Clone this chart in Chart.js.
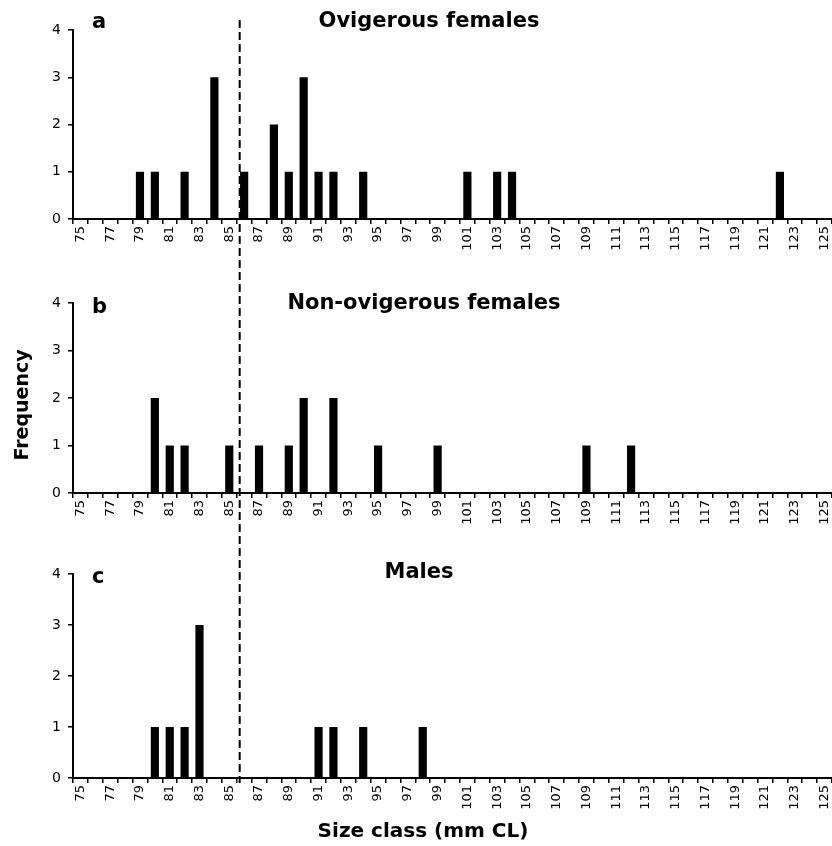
<!DOCTYPE html>
<html><head><meta charset="utf-8">
<script src="https://cdn.jsdelivr.net/npm/chart.js@4.4.0/dist/chart.umd.min.js"></script>
<style>
html,body{margin:0;padding:0;background:#fff;overflow:hidden;}
#wrap{position:relative;width:832px;height:846px;background:#fff;}
canvas{position:absolute;left:0;}
</style></head><body>
<div id="wrap">
<canvas id="ca" width="832" height="270" style="top:0px"></canvas>
<canvas id="cb" width="832" height="280" style="top:270px"></canvas>
<canvas id="cc" width="832" height="296" style="top:550px"></canvas>
</div>
<script>
// Size classes (mm CL)
const sizeClasses = [75,76,77,78,79,80,81,82,83,84,85,86,87,88,89,90,91,92,93,94,95,96,97,98,99,100,
  101,102,103,104,105,106,107,108,109,110,111,112,113,114,115,116,117,118,119,120,121,122,123,124,125];
const tickLabels = ['75','','77','','79','','81','','83','','85','','87','','89','','91','','93','','95','','97','','99','',
  '101','','103','','105','','107','','109','','111','','113','','115','','117','','119','','121','','123','','125'];
// Frequencies
const ovigerous    = [0,0,0,0,1,1,0,1,0,3, 0,1,0,2,1,3,1,1,0,1, 0,0,0,0,0,0,1,0,1,1, 0,0,0,0,0,0,0,0,0,0, 0,0,0,0,0,0,0,1,0,0, 0];
const nonOvigerous = [0,0,0,0,0,2,1,1,0,0, 1,0,1,0,1,2,0,2,0,0, 1,0,0,0,1,0,0,0,0,0, 0,0,0,0,1,0,0,1,0,0, 0,0,0,0,0,0,0,0,0,0, 0];
const males        = [0,0,0,0,0,1,1,1,3,0, 0,0,0,0,0,0,1,1,0,1, 0,0,0,1,0,0,0,0,0,0, 0,0,0,0,0,0,0,0,0,0, 0,0,0,0,0,0,0,0,0,0, 0];
const yTicks = [0,1,2,3,4];
const panelLetters = ['a','b','c'];
const panelTitles = ['Ovigerous females','Non-ovigerous females','Males'];
const maturitySize = 85.7; // dashed reference line (mm CL)
const yAxisTitle = 'Frequency';
const xAxisTitle = 'Size class (mm CL)';

const DASH_TOP = 20, DASH_BOTTOM = 783;

function dashX(chart){
  const xs = chart.scales.x;
  const base = Math.floor(maturitySize);
  const i0 = sizeClasses.indexOf(base);
  const p0 = xs.getPixelForValue(i0), p1 = xs.getPixelForValue(i0+1);
  return p0 + (maturitySize-base)*(p1-p0);
}

function makePanel(id, canvasTop, values, padTop, axisH, texts){
  const annot = {
    id:'annot',
    afterDraw(chart){
      const ctx = chart.ctx;
      ctx.save();
      const x = dashX(chart);
      const y0 = Math.max(DASH_TOP - canvasTop, 0);
      const y1 = Math.min(DASH_BOTTOM - canvasTop, chart.height);
      ctx.strokeStyle = '#000'; ctx.lineWidth = 2;
      ctx.setLineDash([8,4]);
      ctx.lineDashOffset = Math.max(canvasTop - DASH_TOP, 0);
      ctx.beginPath(); ctx.moveTo(x, y0); ctx.lineTo(x, y1); ctx.stroke();
      ctx.setLineDash([]);
      ctx.fillStyle = '#000';
      texts.forEach(t=>{
        ctx.save();
        ctx.font = t.font;
        ctx.textAlign = t.align || 'left';
        ctx.textBaseline = 'alphabetic';
        ctx.translate(t.x, t.y - canvasTop);
        if (t.rot) ctx.rotate(t.rot);
        ctx.fillText(t.text, 0, 0);
        ctx.restore();
      });
      ctx.restore();
    }
  };
  return new Chart(document.getElementById(id), {
    type:'bar',
    data:{labels: sizeClasses.map(String),
      datasets:[{data: values, backgroundColor:'#000', borderWidth:0, barPercentage:0.55, categoryPercentage:1.0}]},
    options:{
      responsive:false, animation:false, devicePixelRatio:1,
      layout:{padding:{top:padTop, left:0, right:0, bottom:0}},
      plugins:{legend:{display:false}, tooltip:{enabled:false}, title:{display:false}},
      scales:{
        x:{
          type:'category', offset:true,
          grid:{offset:true, drawOnChartArea:false, drawTicks:true, tickLength:5, color:'#000', lineWidth:1.5},
          border:{display:true, color:'#000', width:2},
          ticks:{autoSkip:false, minRotation:90, maxRotation:90, padding:2, color:'#000',
                 font:{family:'DejaVu Sans', size:13}, callback:(v,i)=>tickLabels[i]},
          afterFit:(s)=>{ s.height = axisH; s.paddingLeft = 0; s.paddingRight = 0; }
        },
        y:{
          min:0, max:4,
          afterBuildTicks:(s)=>{ s.ticks = yTicks.map(v=>({value:v})); },
          ticks:{stepSize:1, color:'#000', padding:7, font:{family:'DejaVu Sans', size:14}},
          grid:{drawOnChartArea:false, drawTicks:true, tickLength:5, color:'#000', lineWidth:1.5},
          border:{display:true, color:'#000', width:2},
          afterFit:(s)=>{ s.width = 73; }
        }
      }
    },
    plugins:[annot]
  });
}

const boldF = (px)=> 'bold '+px+'px "DejaVu Sans"';

makePanel('ca', 0, ovigerous, 30, 51, [
  {text:panelLetters[0], x:92, y:28, font:boldF(21)},
  {text:panelTitles[0], x:429, y:27, font:boldF(21), align:'center'}
]);
makePanel('cb', 270, nonOvigerous, 33, 57, [
  {text:panelLetters[1], x:92, y:313, font:boldF(21)},
  {text:panelTitles[1], x:424, y:309, font:boldF(21), align:'center'},
  {text:yAxisTitle, x:28, y:405, font:boldF(19), align:'center', rot:-Math.PI/2}
]);
makePanel('cc', 550, males, 24, 68, [
  {text:panelLetters[2], x:92, y:583, font:boldF(21)},
  {text:panelTitles[2], x:419, y:578, font:boldF(21), align:'center'},
  {text:xAxisTitle, x:423, y:837, font:boldF(20), align:'center'}
]);
</script>
</body></html>
